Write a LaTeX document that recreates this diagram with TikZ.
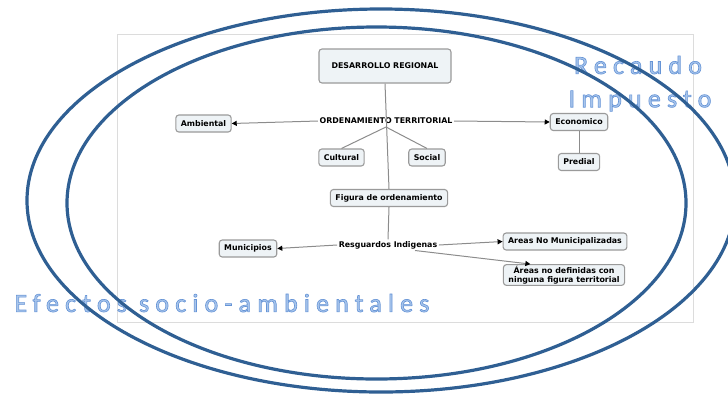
\documentclass[tikz,border=0pt]{standalone}
\usepackage{fontspec}
\setsansfont{DejaVu Sans}
\newfontfamily\wmfont[LetterSpace=24,FakeBold=2.5]{Carlito}
\usetikzlibrary{arrows.meta}
\definecolor{boxgray}{HTML}{9A9A9A}
\definecolor{boxfill}{HTML}{EEF3F6}
\definecolor{linegray}{HTML}{8C8C8C}
\definecolor{rectgray}{HTML}{DCDCDC}
\definecolor{ringblue}{HTML}{2F5F93}
\definecolor{wmblue}{HTML}{A9C6EC}
\newcommand{\wmstroke}{\special{pdf:literal direct 0.40 0.58 0.84 RG}}
\begin{document}
\begin{tikzpicture}[x=1bp,y=-1bp,
  box/.style={draw=boxgray, line width=1.1bp, fill=boxfill, rounded corners=3bp,
    font=\sffamily\bfseries\fontsize{7.9}{8.8}\selectfont, inner xsep=5bp, inner ysep=2bp,
    minimum height=17bp, align=center},
  lbl/.style={font=\sffamily\bfseries\fontsize{7.9}{8.8}\selectfont, inner sep=1.5bp},
  conn/.style={draw=linegray, line width=1bp},
  arr/.style={conn, -{Triangle[length=5bp,width=5bp,black]}},
  ring/.style={draw=ringblue, line width=3.2bp},
  wm/.style={font=\wmfont\fontsize{26}{28}\selectfont, text=wmblue, inner sep=0pt}
]
\useasboundingbox (0,0) rectangle (728,396);
\draw[draw=rectgray, line width=1bp] (117,34) rectangle (693,322);

% watermark texts
\node[wm] (wmA) at (222,303) {\wmstroke Efectos socio-ambientales};
\node[wm] (wmB) at (638,65) {\wmstroke Recaudo};
\node[wm] (wmC) at (640,101) {\wmstroke Impuesto};

% nodes
\node[box, minimum width=132bp, minimum height=34bp] (dr) at (385,66) {DESARROLLO REGIONAL};
\node[lbl] (ord) at (386,121) {ORDENAMIENTO TERRITORIAL};
\node[box] (amb) at (203.5,123.5) {Ambiental};
\node[box] (cul) at (341.5,157.5) {Cultural};
\node[box] (soc) at (427,157.5) {Social};
\node[box] (eco) at (579,122) {Economico};
\node[box] (pre) at (579,162) {Predial};
\node[box] (fig) at (389,198) {Figura de ordenamiento};
\node[lbl] (res) at (388,245) {Resguardos Indigenas};
\node[box] (mun) at (248,248.5) {Municipios};
\node[box] (anm) at (565,241.5) {Areas No Municipalizadas};
\node[box, inner ysep=1.5bp] (and) at (564,275) {Áreas no definidas con\\ninguna figura territorial};

\coordinate (ordb) at (386,127);
\coordinate (resb) at (415,250.5);

% connectors
\draw[conn] (dr.south) -- (fig.north);
\draw[arr] (ord.west) -- (amb.east);
\draw[arr] (ord.east) -- (eco.west);
\draw[conn] (ordb) -- (cul.north);
\draw[conn] (ordb) -- (soc.north);
\draw[conn] (eco.south) -- (pre.north);
\draw[conn] (fig.south) -- (res.north);
\draw[arr] (res.west) -- (mun.east);
\draw[arr] (res.east) -- (anm.west);
\draw[arr] (resb) -- (and.162);

% rings
\draw[ring] (376.5,203) ellipse [x radius=309.5, y radius=176];
\draw[ring] (381,200.5) ellipse [x radius=354, y radius=191.5];
\end{tikzpicture}
\end{document}
